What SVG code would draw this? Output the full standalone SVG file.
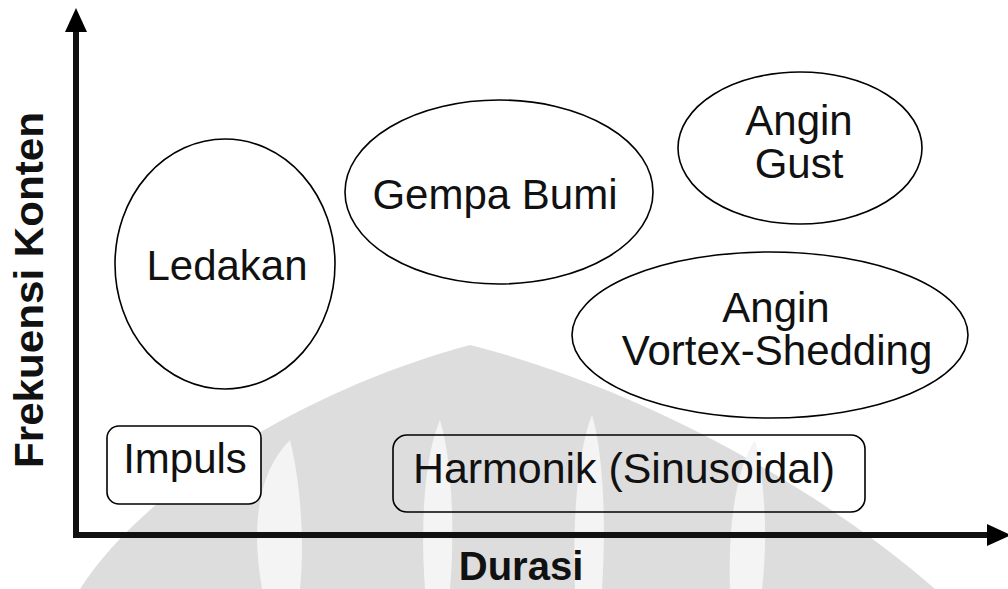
<svg xmlns="http://www.w3.org/2000/svg" width="1008" height="589" viewBox="0 0 1008 589">
  <style>
    .node { fill: #ffffff; stroke: #000000; stroke-width: 1.6; }
    .open { fill: none; stroke: #000000; stroke-width: 1.6; }
    .lbl { font-family: "Liberation Sans", Arial, sans-serif; font-size: 42px; fill: #111111; text-anchor: middle; }
    .axis-lbl { font-family: "Liberation Sans", Arial, sans-serif; font-size: 40px; font-weight: bold; fill: #111111; }
    .axis { stroke: #111111; stroke-width: 6; fill: none; }
    .wm { fill: #dddddd; }
    .wm-hole { fill: #f4f4f4; }
  </style>
  <defs>
    <marker id="ah" markerUnits="userSpaceOnUse" markerWidth="24" markerHeight="22" refX="0" refY="11" orient="auto">
      <path d="M0,0 L24,11 L0,22 Z" fill="#000000"/>
    </marker>
  </defs>

  <rect width="1008" height="589" fill="#ffffff"/>

  <!-- faint background watermark -->
  <g id="watermark">
    <path class="wm" d="M 80 589 C 150 480, 320 385, 470 345 C 630 385, 810 480, 935 589 Z"/>
    <path class="wm-hole" d="M 262 589 C 250 520, 260 470, 290 440 C 300 480, 305 540, 300 589 Z"/>
    <path class="wm-hole" d="M 425 589 C 420 520, 425 455, 440 420 C 452 460, 455 530, 450 589 Z"/>
    <path class="wm-hole" d="M 575 589 C 572 520, 578 450, 592 415 C 604 455, 606 530, 602 589 Z"/>
    <path class="wm-hole" d="M 730 589 C 728 530, 735 470, 755 440 C 765 480, 768 540, 762 589 Z"/>
  </g>

  <!-- axes (connectors) -->
  <g id="axes">
    <line class="axis" x1="76" y1="538" x2="76" y2="32" marker-end="url(#ah)"/>
    <line class="axis" x1="73" y1="535" x2="987" y2="535" marker-end="url(#ah)"/>
  </g>

  <g id="axis-y-label">
    <text class="axis-lbl" transform="translate(43,468) rotate(-90)" textLength="356" lengthAdjust="spacingAndGlyphs">Frekuensi Konten</text>
  </g>
  <g id="axis-x-label">
    <text class="axis-lbl" x="521" y="580" text-anchor="middle">Durasi</text>
  </g>

  <g id="ledakan">
    <ellipse class="node" cx="225" cy="264" rx="110" ry="125"/>
    <text class="lbl" x="227" y="280">Ledakan</text>
  </g>

  <g id="gempa-bumi">
    <ellipse class="node" cx="499" cy="192" rx="154" ry="92"/>
    <text class="lbl" x="495" y="209">Gempa Bumi</text>
  </g>

  <g id="angin-gust">
    <ellipse class="node" cx="800" cy="148" rx="122" ry="76"/>
    <text class="lbl" x="799" y="135">Angin</text>
    <text class="lbl" x="799" y="178">Gust</text>
  </g>

  <g id="angin-vortex">
    <ellipse class="node" cx="770" cy="335" rx="198" ry="83"/>
    <text class="lbl" x="776" y="322">Angin</text>
    <text class="lbl" x="777" y="365">Vortex-Shedding</text>
  </g>

  <g id="impuls">
    <rect class="node" x="107" y="426" width="154" height="78" rx="12" ry="12"/>
    <text class="lbl" x="185" y="473">Impuls</text>
  </g>

  <g id="harmonik">
    <rect class="open" x="393" y="435" width="472" height="77" rx="14" ry="14"/>
    <text class="lbl" x="624" y="483" textLength="422" lengthAdjust="spacingAndGlyphs">Harmonik (Sinusoidal)</text>
  </g>
</svg>
